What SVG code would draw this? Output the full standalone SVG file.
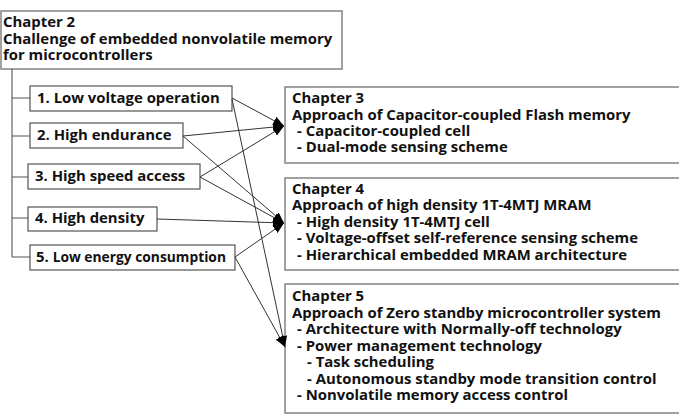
<svg xmlns="http://www.w3.org/2000/svg" width="679" height="416" viewBox="0 0 679 416">
<defs>
<style>
text{font-family:"Open Sans","Noto Sans","DejaVu Sans",sans-serif;font-weight:bold;font-size:14.9px;fill:#111}
.chap{fill:#fff;stroke:#8a8a8a;stroke-width:1.6}
.item{fill:#fff;stroke:#444;stroke-width:1.1}
.tree{fill:none;stroke:#555;stroke-width:1.1}
.conn{fill:none;stroke:#333;stroke-width:1;marker-end:url(#ah)}
</style>
<marker id="ah" markerUnits="userSpaceOnUse" markerWidth="12" markerHeight="10" refX="11" refY="4.5" orient="auto">
<path d="M0,0 L11,4.5 L0,9 z" fill="#000"/>
</marker>
</defs>
<rect width="679" height="416" fill="#fff"/>
<g id="ch2">
<rect class="chap" x="1" y="11" width="341" height="58"/>
<text x="3" y="27">Chapter 2</text>
<text x="3" y="44">Challenge of embedded nonvolatile memory</text>
<text x="3" y="60">for microcontrollers</text>
</g>
<g id="tree">
<path class="tree" d="M12,69 V257 M12,98 H30 M12,136 H30 M12,177 H28 M12,218 H28 M12,257 H30"/>
</g>
<g id="item1">
<rect class="item" x="30" y="86" width="202" height="25"/>
<text x="37" y="103">1. Low voltage operation</text>
</g>
<g id="item2">
<rect class="item" x="30" y="123" width="153" height="25"/>
<text x="37" y="140">2. High endurance</text>
</g>
<g id="item3">
<rect class="item" x="28" y="164" width="172" height="25"/>
<text x="35" y="181">3. High speed access</text>
</g>
<g id="item4">
<rect class="item" x="28" y="207" width="129" height="24"/>
<text x="35" y="223">4. High density</text>
</g>
<g id="item5">
<rect class="item" x="30" y="245" width="205" height="25"/>
<text x="36" y="262">5. <tspan font-size="13.8">Low energy consumption</tspan></text>
</g>
<g id="ch3">
<rect class="chap" x="285" y="87" width="396" height="76"/>
<text x="292" y="103">Chapter 3</text>
<text x="292" y="120">Approach of Capacitor-coupled Flash memory</text>
<text x="297" y="136">- Capacitor-coupled cell</text>
<text x="297" y="152">- Dual-mode sensing scheme</text>
</g>
<g id="ch4">
<rect class="chap" x="285" y="178" width="396" height="92"/>
<text x="292" y="194">Chapter 4</text>
<text x="292" y="210">Approach of high density 1T-4MTJ MRAM</text>
<text x="297" y="227">- High density 1T-4MTJ cell</text>
<text x="297" y="243">- Voltage-offset self-reference sensing scheme</text>
<text x="297" y="260">- Hierarchical embedded MRAM architecture</text>
</g>
<g id="ch5">
<rect class="chap" x="285" y="284" width="396" height="129"/>
<text x="292" y="301">Chapter 5</text>
<text x="292" y="318">Approach of Zero standby microcontroller system</text>
<text x="297" y="334">- Architecture with Normally-off technology</text>
<text x="297" y="351">- Power management technology</text>
<text x="307" y="367">- Task scheduling</text>
<text x="307" y="384">- Autonomous standby mode transition control</text>
<text x="297" y="400">- Nonvolatile memory access control</text>
</g>
<g id="connectors">
<line class="conn" x1="232" y1="98" x2="284" y2="126"/>
<line class="conn" x1="183" y1="136" x2="284" y2="126"/>
<line class="conn" x1="200" y1="177" x2="284" y2="126"/>
<line class="conn" x1="183" y1="136" x2="284" y2="223"/>
<line class="conn" x1="200" y1="177" x2="284" y2="223"/>
<line class="conn" x1="157" y1="219" x2="284" y2="223"/>
<line class="conn" x1="235" y1="257" x2="284" y2="223"/>
<line class="conn" x1="232" y1="99" x2="285" y2="347"/>
<line class="conn" x1="235" y1="257" x2="285" y2="347"/>
</g>
</svg>
